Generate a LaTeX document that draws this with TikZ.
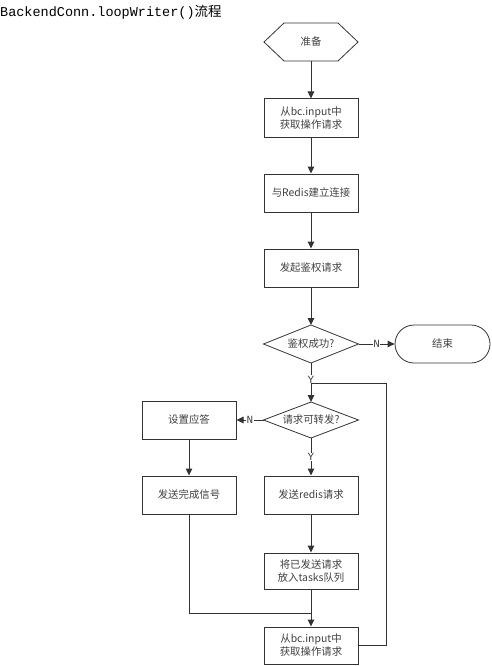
\documentclass[tikz,border=0pt]{standalone}
\usepackage{fontspec}
\setmainfont{Noto Sans CJK SC}
\newfontfamily\ttt{Liberation Mono}
\usetikzlibrary{arrows.meta,calc}
\definecolor{ln}{HTML}{333333}
\definecolor{tx}{HTML}{404040}
\begin{document}
\begin{tikzpicture}[x=1pt,y=-1pt,
  box/.style={draw=ln,line width=1pt,minimum width=94pt,minimum height=38pt,inner sep=1pt,align=center,text=tx,font=\fontsize{10.4}{13}\selectfont},
  ghost/.style={minimum width=95pt,minimum height=38pt,inner sep=0pt,outer sep=0pt,align=center,text=tx,font=\fontsize{10.4}{13}\selectfont},
  term/.style={draw=ln,line width=0.8pt,rounded corners=19pt,minimum width=95pt,minimum height=38pt,inner sep=0pt,text=tx,font=\fontsize{10.4}{13}\selectfont},
  shp/.style={draw=ln,line width=0.8pt},
  line/.style={draw=ln,line width=1pt},
  arr/.style={line,-{Triangle[length=7pt,width=6.5pt]}},
  lab/.style={fill=white,inner sep=0.3pt,text=tx,font=\fontsize{11}{11}\ttt}]
\useasboundingbox (0,0) rectangle (491,666);
\node[anchor=west,inner sep=0pt,font=\fontsize{13.5}{15}\selectfont] (title) at (0,12) {{\ttt BackendConn.loopWriter()}流程};
% start hexagon
\node[ghost,minimum width=94pt] (prep) at (311,42) {准备};
\draw[shp] (prep.west) -- ($(prep.north west)+(20,0)$) -- ($(prep.north east)+(-20,0)$) -- (prep.east) -- ($(prep.south east)+(-20,0)$) -- ($(prep.south west)+(20,0)$) -- cycle;
\node[box] (b1) at (311,118) {从bc.input中\\获取操作请求};
\node[box] (b2) at (311,193) {与Redis建立连接};
\node[box] (b3) at (311,268) {发起鉴权请求};
\node[ghost] (d1) at (311,344) {鉴权成功?};
\draw[shp] (d1.west) -- (d1.north) -- (d1.east) -- (d1.south) -- cycle;
\node[term] (end) at (442.5,344) {结束};
\node[ghost,minimum height=36pt] (d2) at (311,420) {请求可转发?};
\draw[shp] (d2.west) -- (d2.north) -- (d2.east) -- (d2.south) -- cycle;
\node[box] (set) at (189,420) {设置应答};
\node[box] (done) at (189,495) {发送完成信号};
\node[box] (redis) at (311,495) {发送redis请求};
\node[box,minimum height=36pt] (tasks) at (311,571) {将已发送请求\\放入tasks队列};
\node[box,minimum height=37pt] (last) at (311,645.5) {从bc.input中\\获取操作请求};
\coordinate (j) at (311,613);
\coordinate (lp) at (386,383);
% connectors
\draw[arr] (prep) -- (b1);
\draw[arr] (b1) -- (b2);
\draw[arr] (b2) -- (b3);
\draw[arr] (b3) -- (d1.north);
\draw[arr] (d1.east) -- node[lab]{N} (end.west);
\draw[arr] (d1.south) -- node[lab,pos=0.42]{Y} (d2.north);
\draw[arr] (d2.west) -- node[lab]{N} (set.east);
\draw[arr] (d2.south) -- node[lab]{Y} (redis.north);
\draw[arr] (set) -- (done);
\draw[arr] (redis) -- (tasks);
\draw[arr] (tasks) -- (last);
\draw[line] (done.south) |- (j);
\draw[line] (last.east) -| (lp) -- (d1.south |- lp);
\end{tikzpicture}
\end{document}
